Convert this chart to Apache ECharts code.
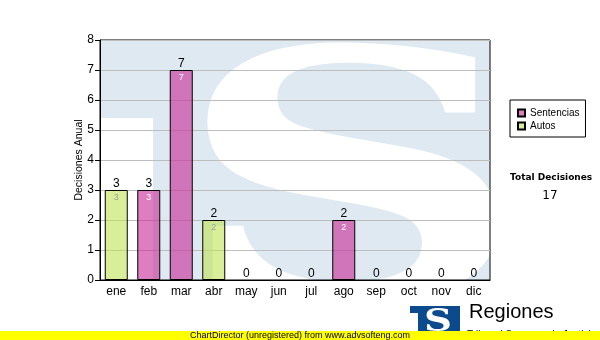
<!DOCTYPE html>
<html>
<head>
<meta charset="utf-8">
<script src="https://cdn.jsdelivr.net/npm/echarts@6/dist/echarts.min.js"></script>
<style>
  html, body { margin: 0; padding: 0; background: #fff; }
  #main { width: 600px; height: 340px; }
</style>
</head>
<body>
<div id="main"></div>
<script>
// chart values
var months = ['ene', 'feb', 'mar', 'abr', 'may', 'jun', 'jul', 'ago', 'sep', 'oct', 'nov', 'dic'];
var sentencias = [0, 3, 7, 0, 0, 0, 0, 2, 0, 0, 0, 0];
var autos = [3, 0, 0, 2, 0, 0, 0, 0, 0, 0, 0, 0];

var totals = months.map(function (m, i) { return sentencias[i] + autos[i]; });
var grandTotal = totals.reduce(function (a, b) { return a + b; }, 0);

// zero values draw no bar
function noZero(arr) {
    return arr.map(function (v) { return v === 0 ? '-' : v; });
}

var FONT = '"Liberation Sans", Arial, sans-serif';
var WATER = '#dfe9f2';

var myChart = echarts.init(document.getElementById('main'), null, { renderer: 'canvas' });

var option = {
    animation: false,
    textStyle: { fontFamily: FONT },
    grid: {
        left: 100, right: 110, top: 40, bottom: 60,
        show: true, borderColor: '#000', borderWidth: 1, backgroundColor: 'transparent'
    },
    legend: {
        data: ['Sentencias', 'Autos'],
        orient: 'vertical',
        left: 510, top: 100,
        padding: [8, 6, 6, 7],
        itemGap: 3,
        itemWidth: 7, itemHeight: 7,
        itemTextGap: 4,
        icon: 'rect',
        borderColor: '#000', borderWidth: 1,
        backgroundColor: '#fff',
        textStyle: { fontFamily: FONT, fontSize: 10, color: '#000' }
    },
    xAxis: {
        type: 'category',
        data: months,
        axisLine: { lineStyle: { color: '#000' } },
        axisTick: { alignWithLabel: true, length: 4, lineStyle: { color: '#000' } },
        axisLabel: { color: '#000', fontSize: 12, margin: 6, fontFamily: FONT }
    },
    yAxis: {
        type: 'value',
        min: 0, max: 8, interval: 1,
        name: 'Decisiones Anual',
        nameLocation: 'middle',
        nameGap: 15,
        nameMoveOverlap: false,
        nameTextStyle: { color: '#000', fontSize: 10.5, fontFamily: FONT },
        axisLine: { show: true, lineStyle: { color: '#000' } },
        axisTick: { show: true, length: 5, lineStyle: { color: '#000' } },
        axisLabel: { color: '#000', fontSize: 12, margin: 6, fontFamily: FONT },
        splitLine: { lineStyle: { color: '#bdbdbd' } }
    },
    series: [
        {
            name: 'Sentencias',
            type: 'bar',
            stack: 'dec',
            barWidth: 23,
            data: noZero(sentencias),
            itemStyle: { color: 'rgba(200,40,150,0.6)', borderColor: '#000', borderWidth: 1 },
            label: {
                show: true, position: 'insideTop', distance: 3,
                fontSize: 9, color: '#fff', fontFamily: FONT
            }
        },
        {
            name: 'Autos',
            type: 'bar',
            stack: 'dec',
            barWidth: 23,
            data: noZero(autos),
            itemStyle: { color: 'rgba(190,227,83,0.6)', borderColor: '#000', borderWidth: 1 },
            label: {
                show: true, position: 'insideTop', distance: 3,
                fontSize: 9, color: '#a0a0a0', fontFamily: FONT
            }
        },
        {
            name: 'Total',
            type: 'bar',
            barWidth: 23,
            barGap: '-100%',
            silent: true,
            data: totals,
            itemStyle: { color: 'rgba(0,0,0,0)', borderWidth: 0 },
            label: {
                show: true, position: 'top', distance: 0,
                fontSize: 12, color: '#000', fontFamily: FONT
            }
        }
    ],
    graphic: [
        // watermark logo in plot area
        { type: 'rect', z: -10, shape: { x: 100, y: 40, width: 390, height: 240 }, style: { fill: WATER } },
        { type: 'rect', z: -9, shape: { x: 100, y: 118, width: 53, height: 162 }, style: { fill: '#fff' } },
        {
            type: 'text', z: -8, x: 351, y: 208, scaleX: 1.56, scaleY: 1.1,
            style: {
                text: 'S', x: 0, y: 0, align: 'center', verticalAlign: 'middle',
                font: 'bold 312px "DejaVu Serif", serif', fill: '#fff'
            }
        },
        // total box
        {
            type: 'text', left: 510, top: 173,
            style: { text: 'Total Decisiones', font: 'bold 9px "DejaVu Sans", sans-serif', fill: '#000' }
        },
        {
            type: 'text', x: 550, y: 196,
            style: { text: String(grandTotal), align: 'center', verticalAlign: 'middle', font: '12px "DejaVu Sans", sans-serif', fill: '#000' }
        },
        // footer logo
        { type: 'rect', z: 5, shape: { x: 410, y: 306, width: 50, height: 26 }, style: { fill: '#0b4a8c' } },
        { type: 'rect', z: 6, shape: { x: 410, y: 313, width: 8, height: 19 }, style: { fill: '#fff' } },
        {
            type: 'text', z: 7, x: 438, y: 323, scaleX: 1.25,
            style: {
                text: 'S', x: 0, y: 0, align: 'center', verticalAlign: 'middle',
                font: 'bold 31px "DejaVu Serif", serif', fill: '#fff'
            }
        },
        {
            type: 'text', z: 7, x: 469, y: 322,
            style: { text: 'Regiones', verticalAlign: 'bottom', font: '20px ' + FONT, fill: '#000' }
        },
        {
            type: 'text', z: 7, x: 467, y: 330,
            style: { text: 'Tribunal Supremo de Justicia', verticalAlign: 'top', font: '10px ' + FONT, fill: '#000' }
        },
        // unregistered banner
        { type: 'rect', z: 20, shape: { x: 0, y: 331, width: 600, height: 9 }, style: { fill: '#ffff00' } },
        {
            type: 'text', z: 21, x: 300, y: 335.5,
            style: {
                text: 'ChartDirector (unregistered) from www.advsofteng.com', align: 'center', verticalAlign: 'middle',
                font: '9px ' + FONT, fill: '#000'
            }
        }
    ]
};

myChart.setOption(option);
</script>
</body>
</html>
